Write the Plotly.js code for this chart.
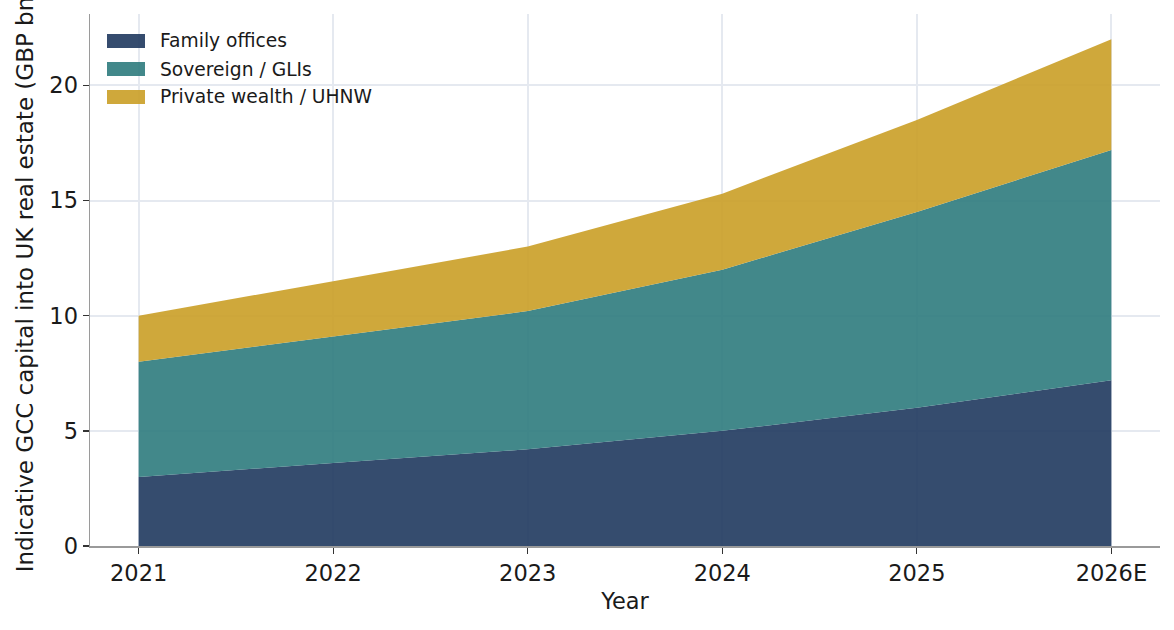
<!DOCTYPE html>
<html>
<head>
<meta charset="utf-8">
<script src="https://cdn.plot.ly/plotly-3.0.1.min.js"></script>
<style>
  html, body { margin: 0; padding: 0; background: #fff; }
  #chart { width: 1174px; height: 630px; }
</style>
</head>
<body>
<div id="chart"></div>
<script>
// --- data (GBP bn) ---
const years = ['2021', '2022', '2023', '2024', '2025', '2026E'];
const familyOffices = [3.0, 3.6, 4.2, 5.0, 6.0, 7.2];
const sovereignGLIs = [5.0, 5.5, 6.0, 7.0, 8.5, 10.0];
const privateWealth = [2.0, 2.4, 2.8, 3.3, 4.0, 4.8];
const seriesNames = ['Family offices', 'Sovereign / GLIs', 'Private wealth / UHNW'];
const yTicks = [0, 5, 10, 15, 20];

const colors = ['rgba(31,57,94,0.9)', 'rgba(46,123,125,0.9)', 'rgba(202,159,38,0.9)'];
const font = 'DejaVu Sans, sans-serif';

// plot area in page pixels, used for the hand-made legend
const W = 1174, H = 630;
const margin = { l: 90, r: 14, t: 14, b: 84 };
const plotW = W - margin.l - margin.r, plotH = H - margin.t - margin.b;
const px2x = p => (p - margin.l) / plotW;
const px2y = p => (H - margin.b - p) / plotH;

const values = [familyOffices, sovereignGLIs, privateWealth];
const traces = values.map((v, i) => ({
  x: years, y: v, name: seriesNames[i],
  type: 'scatter', mode: 'none', stackgroup: 'gcc',
  fill: 'tonexty', fillcolor: colors[i],
  hoverinfo: 'x+y+name'
}));

// legend like matplotlib: filled patches, no frame
const shapes = [], annotations = [];
seriesNames.forEach((name, i) => {
  const cy = 41 + i * 28;
  shapes.push({
    type: 'rect', xref: 'paper', yref: 'paper',
    x0: px2x(107), x1: px2x(145), y0: px2y(cy + 7), y1: px2y(cy - 7),
    fillcolor: colors[i], line: { width: 0 }
  });
  annotations.push({
    xref: 'paper', yref: 'paper', x: px2x(158), y: px2y(cy),
    xanchor: 'left', yanchor: 'middle', showarrow: false,
    text: name, font: { family: font, size: 18.7, color: '#1a1a1a' }
  });
});

const axisCommon = {
  showline: true, linecolor: '#9a9a9a', linewidth: 1.5,
  showgrid: true, gridcolor: '#e5e9f0', gridwidth: 2,
  zeroline: false, ticks: 'outside', ticklen: 6, tickwidth: 1.3, tickcolor: '#333',
  tickfont: { family: font, size: 22.5, color: '#1a1a1a' }
};

const layout = {
  width: W, height: H, margin: margin,
  paper_bgcolor: '#fff', plot_bgcolor: '#fff',
  font: { family: font, color: '#1a1a1a' },
  showlegend: false,
  xaxis: {
    ...axisCommon, type: 'category', range: [-0.25, 5.25],
    title: { text: 'Year', font: { family: font, size: 22.5 }, standoff: 8 }
  },
  yaxis: {
    ...axisCommon, range: [0, 23.1], tickvals: yTicks,
    // long title runs past the top edge, same as the original figure
    title: { text: 'Indicative GCC capital into UK real estate (GBP bn)', font: { family: font, size: 23 }, standoff: 9 }
  },
  shapes: shapes,
  annotations: annotations
};

Plotly.newPlot('chart', traces, layout, { displayModeBar: false, staticPlot: true });
</script>
</body>
</html>
